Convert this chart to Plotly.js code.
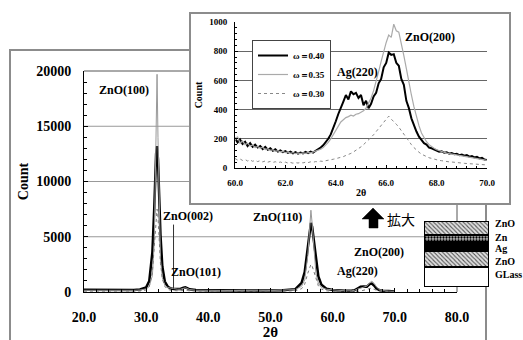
<!DOCTYPE html>
<html><head><meta charset="utf-8">
<script src="https://cdn.plot.ly/plotly-3.0.1.min.js"></script>
<style>html,body{margin:0;padding:0;background:#fff}#chart{width:523px;height:340px}</style>
</head><body><div id="chart"></div>
<script>
// ---------- main XRD pattern (2θ vs Count) ----------
const mainX = [20,22,24,26,28,29,30,30.5,31,31.3,31.5,31.6,31.75,31.9,32.1,32.3,32.6,33,33.5,34,34.4,35,35.5,36,36.3,36.6,37,38,40,42,44,46,48,50,52,54,55,55.5,56,56.3,56.5,56.7,57,57.3,57.7,58.2,59,60,61,62,63,63.5,64,64.5,65,65.5,66,66.3,66.7,67,67.5,68,69,70];
const main040 = [200,185,175,165,185,230,420,1000,3600,7600,11000,12500,13200,12000,8600,5200,2300,950,460,310,280,250,270,380,420,350,240,175,150,140,135,130,130,140,160,260,820,1800,4300,5800,6250,5900,4500,2800,1400,650,300,190,140,115,112,155,320,480,500,480,730,760,560,340,170,120,92,55];
const main035 = [150,140,130,130,150,180,280,500,1500,4500,10000,15000,19700,14000,6500,3000,1300,600,400,330,320,260,250,330,380,320,220,160,140,130,125,120,120,130,150,220,520,1100,3300,6100,7400,6200,3500,1700,800,400,250,190,135,105,104,140,260,350,380,530,860,975,770,500,205,125,82,52];
const main030 = [80,70,60,60,70,90,180,500,1800,4000,6000,7000,7500,6800,4500,2600,1200,500,220,150,130,110,110,150,170,140,100,70,60,58,55,55,55,58,65,100,300,700,1700,2300,2500,2350,1800,1100,550,250,110,65,50,40,42,45,64,92,145,228,330,320,230,160,85,57,34,21];

// ---------- inset: 60–70° enlarged ----------
const insetX = [
 60,60.1,60.2,60.3,60.4,60.5,60.6,60.7,60.8,60.9,
 61,61.1,61.2,61.3,61.4,61.5,61.6,61.7,61.8,61.9,
 62,62.1,62.2,62.3,62.4,62.5,62.6,62.7,62.8,62.9,
 63,63.1,63.2,63.3,63.4,63.5,63.6,63.7,63.8,63.9,
 64,64.1,64.2,64.3,64.4,64.5,64.6,64.7,64.8,64.9,
 65,65.1,65.2,65.3,65.4,65.5,65.6,65.7,65.8,65.9,
 66,66.1,66.2,66.3,66.4,66.5,66.6,66.7,66.8,66.9,
 67,67.1,67.2,67.3,67.4,67.5,67.6,67.7,67.8,67.9,
 68,68.1,68.2,68.3,68.4,68.5,68.6,68.7,68.8,68.9,
 69,69.1,69.2,69.3,69.4,69.5,69.6,69.7,69.8,69.9,
 70];
const inset040 = [
 205,175,195,165,180,150,170,145,160,140,
 150,130,145,125,135,118,128,112,120,108,
 115,104,112,100,108,98,106,100,110,102,
 112,105,118,128,140,155,175,200,230,270,
 320,370,420,455,500,470,525,505,515,480,
 500,430,460,410,440,490,515,580,610,690,
 720,790,775,780,720,700,610,570,460,410,
 340,290,250,215,190,170,160,140,135,125,
 120,112,115,105,108,98,102,95,98,88,
 92,84,88,78,82,72,76,66,70,58,
 55];
const inset035 = [
 190,215,170,185,160,170,150,158,140,148,
 135,142,126,133,120,126,114,119,110,114,
 105,110,101,106,98,104,99,104,100,106,
 104,110,112,120,128,140,155,175,200,230,
 260,290,315,330,345,352,362,356,368,372,
 380,392,410,440,480,530,590,660,730,800,
 860,910,895,985,940,930,860,770,680,580,
 500,420,350,290,240,205,180,160,145,135,
 125,118,112,106,102,98,95,92,88,85,
 82,80,76,74,70,68,64,62,58,55,
 52];
const inset030 = [
 65,55,62,52,58,48,55,46,52,44,
 50,42,48,40,45,38,43,36,41,35,
 40,34,38,33,37,34,38,35,40,37,
 42,39,44,42,47,45,50,52,56,60,
 64,68,74,78,86,92,100,110,120,132,
 145,160,175,192,210,228,248,268,290,310,
 330,355,335,320,300,280,255,230,205,180,
 160,140,122,108,95,85,78,70,66,60,
 57,52,50,46,45,42,41,38,37,35,
 34,32,31,29,28,27,25,24,23,22,
 21];
const seriesNames = ['ω＝0.40', 'ω＝0.35', 'ω＝0.30'];

// ---------- labels ----------
const mainPeakLabels = ['ZnO(100)', 'ZnO(002)', 'ZnO(101)', 'ZnO(110)', 'Ag(220)', 'ZnO(200)'];
const insetPeakLabels = ['ZnO(200)', 'Ag(220)'];
const zoomLabel = '拡大';
// layer stack (bottom → top), schematic thicknesses
const layerNames = ['GLass', 'ZnO', 'Ag', 'Zn', 'ZnO'];
const layerThick = [20, 16, 9, 7, 14];

// ---------- helpers (pixel → paper) ----------
const W = 523, H = 340;
const px = x => x / W;
const py = y => 1 - y / H;
const SERIF = '"Liberation Serif", "Times New Roman", serif';
const bold = (size, color) => ({family: SERIF, size: size, color: color || '#000', weight: 'bold'});

const traces = [];
// main traces
traces.push({x: mainX, y: main040, xaxis: 'x', yaxis: 'y', mode: 'lines', name: seriesNames[0],
  line: {color: '#000', width: 2.5}, showlegend: false});
traces.push({x: mainX, y: main035, xaxis: 'x', yaxis: 'y', mode: 'lines', name: seriesNames[1],
  line: {color: '#999', width: 1}, showlegend: false});
traces.push({x: mainX, y: main030, xaxis: 'x', yaxis: 'y', mode: 'lines', name: seriesNames[2],
  line: {color: '#777', width: 1, dash: 'dot'}, showlegend: false});
// inset traces
traces.push({x: insetX, y: inset040, xaxis: 'x2', yaxis: 'y2', mode: 'lines', name: seriesNames[0],
  line: {color: '#000', width: 2}});
traces.push({x: insetX, y: inset035, xaxis: 'x2', yaxis: 'y2', mode: 'lines', name: seriesNames[1],
  line: {color: '#aaa', width: 1.2}});
traces.push({x: insetX, y: inset030, xaxis: 'x2', yaxis: 'y2', mode: 'lines', name: seriesNames[2],
  line: {color: '#888', width: 1, dash: 'dot'}});
// layer stack diagram
const layerStyle = {
  'GLass': {color: '#fff'},
  'ZnO': {color: '#d0d0d0', pattern: {shape: '\\', fgcolor: '#555', bgcolor: '#e0e0e0', size: 3, solidity: 0.35}},
  'Ag': {color: '#000'},
  'Zn': {color: '#999', pattern: {shape: '.', fgcolor: '#000', bgcolor: '#bbb', size: 3, solidity: 0.45}}
};
layerNames.forEach((nm, i) => {
  const st = layerStyle[nm];
  const marker = {color: st.color, line: {color: '#000', width: 1.2}};
  if (st.pattern) marker.pattern = st.pattern;
  traces.push({type: 'bar', x: [0], y: [layerThick[i]], width: 1, xaxis: 'x3', yaxis: 'y3',
    name: nm, marker: marker, showlegend: false, hoverinfo: 'skip'});
});
const stackTotal = layerThick.reduce((a, b) => a + b, 0);

const grey = '#8c8c8c';
const shapes = [
  // main gridlines (cut by inset)
  {type: 'line', xref: 'paper', yref: 'y', x0: px(84), x1: px(457), y0: 5000, y1: 5000, line: {color: '#999', width: 1}, layer: 'below'},
  {type: 'line', xref: 'paper', yref: 'y', x0: px(84), x1: px(190), y0: 10000, y1: 10000, line: {color: '#999', width: 1}, layer: 'below'},
  {type: 'line', xref: 'paper', yref: 'y', x0: px(84), x1: px(190), y0: 15000, y1: 15000, line: {color: '#999', width: 1}, layer: 'below'},
  // main plot frame (top, right)
  {type: 'line', xref: 'paper', yref: 'paper', x0: px(84), x1: px(190), y0: py(71), y1: py(71), line: {color: '#555', width: 1}, layer: 'below'},
  {type: 'line', xref: 'paper', yref: 'paper', x0: px(457), x1: px(457), y0: py(204), y1: py(292), line: {color: '#555', width: 1}, layer: 'below'},
  // outer chart frame
  {type: 'path', xref: 'paper', yref: 'paper', path: `M ${px(10)} ${py(345)} L ${px(10)} ${py(50)} L ${px(190)} ${py(50)}`, line: {color: grey, width: 2}, layer: 'below'},
  {type: 'line', xref: 'paper', yref: 'paper', x0: px(486), x1: px(486), y0: py(204), y1: py(345), line: {color: grey, width: 2}, layer: 'below'},
  // inset box
  {type: 'rect', xref: 'paper', yref: 'paper', x0: px(190), x1: px(510), y0: py(204), y1: py(13), fillcolor: '#fff', line: {color: grey, width: 2}, layer: 'below'},
  // ZnO(002) marker line
  {type: 'line', xref: 'x', yref: 'y', x0: 34.4, x1: 34.4, y0: 300, y1: 6100, line: {color: '#333', width: 1}},
  // block arrow
  {type: 'path', xref: 'paper', yref: 'paper', fillcolor: '#000', line: {color: '#000', width: 0.5},
   path: `M ${px(373)} ${py(208)} L ${px(384)} ${py(219)} L ${px(378)} ${py(219)} L ${px(378)} ${py(228)} L ${px(369)} ${py(228)} L ${px(369)} ${py(219)} L ${px(362)} ${py(219)} Z`}
];

const ann = (text, x, y, font, extra) => Object.assign({text: text, xref: 'paper', yref: 'paper', x: px(x), y: py(y), showarrow: false, font: font, xanchor: 'center', yanchor: 'middle'}, extra || {});
const mainLabelPos = [[124, 90], [188, 216], [196, 272], [277, 217], [357, 271], [379, 252]];
const insetLabelPos = [[430, 37], [357, 72]];
const layerLabelY = [274, 261, 249, 237, 223];
const annotations = [];
mainPeakLabels.forEach((t, i) => annotations.push(ann(t, mainLabelPos[i][0], mainLabelPos[i][1], bold(12))));
insetPeakLabels.forEach((t, i) => annotations.push(ann(t, insetLabelPos[i][0], insetLabelPos[i][1], bold(12))));
layerNames.forEach((t, i) => annotations.push(ann(t, 493, layerLabelY[i], bold(10), {xanchor: 'left'})));
annotations.push(ann(zoomLabel, 401, 219, {family: '"Noto Sans CJK JP", sans-serif', size: 14, color: '#000'}));

const axCommon = {showline: true, linecolor: '#000', linewidth: 1, ticks: 'inside', tickcolor: '#000', zeroline: false, showgrid: false};

const layout = {
  width: W, height: H, margin: {l: 0, r: 0, t: 0, b: 0},
  paper_bgcolor: '#fff', plot_bgcolor: 'rgba(0,0,0,0)',
  barmode: 'stack', hovermode: false,
  xaxis: Object.assign({}, axCommon, {domain: [px(84), px(457)], range: [20, 80], tick0: 20, dtick: 10, tickformat: '.1f', ticklen: 4,
    minor: {dtick: 2, ticks: 'inside', ticklen: 3, tickcolor: '#000'}, tickfont: bold(14), ticklabelstandoff: 12,
    title: {text: '2θ', font: bold(15), standoff: 0}, anchor: 'y'}),
  yaxis: Object.assign({}, axCommon, {domain: [py(292), py(71)], range: [0, 20000], dtick: 5000, tickformat: 'd', ticklen: 4,
    minor: {dtick: 1000, ticks: 'inside', ticklen: 3, tickcolor: '#000'}, tickfont: bold(14), ticklabelstandoff: 9,
    title: {text: 'Count', font: bold(14), standoff: 4}, anchor: 'x'}),
  xaxis2: Object.assign({}, axCommon, {domain: [px(235), px(487)], range: [60, 70], tick0: 60, dtick: 2, tickformat: '.1f', ticklen: 3,
    minor: {dtick: 0.4, ticks: 'inside', ticklen: 2, tickcolor: '#000'}, tickfont: bold(9), ticklabelstandoff: 6,
    title: {text: '2θ', font: bold(10), standoff: 2}, anchor: 'y2'}),
  yaxis2: Object.assign({}, axCommon, {domain: [py(168), py(22)], range: [0, 1000], dtick: 200, tickformat: 'd', ticklen: 3,
    showgrid: true, gridcolor: '#666', gridwidth: 1,
    minor: {dtick: 40, ticks: 'inside', ticklen: 2, tickcolor: '#000'}, tickfont: bold(9), ticklabelstandoff: 5,
    title: {text: 'Count', font: bold(10), standoff: 4}, anchor: 'x2'}),
  xaxis3: {domain: [px(424), px(489)], range: [-0.5, 0.5], visible: false, anchor: 'y3', fixedrange: true},
  yaxis3: {domain: [py(287), py(221)], range: [0, stackTotal], visible: false, anchor: 'x3', fixedrange: true},
  showlegend: true,
  legend: {x: px(252), y: py(40), xanchor: 'left', yanchor: 'top', bgcolor: '#fff', bordercolor: '#444', borderwidth: 1,
    font: bold(9), tracegroupgap: 0, itemwidth: 30, traceorder: 'normal'},
  shapes: shapes,
  annotations: annotations
};

Plotly.newPlot('chart', traces, layout, {displayModeBar: false, staticPlot: true});
</script>
</body></html>
